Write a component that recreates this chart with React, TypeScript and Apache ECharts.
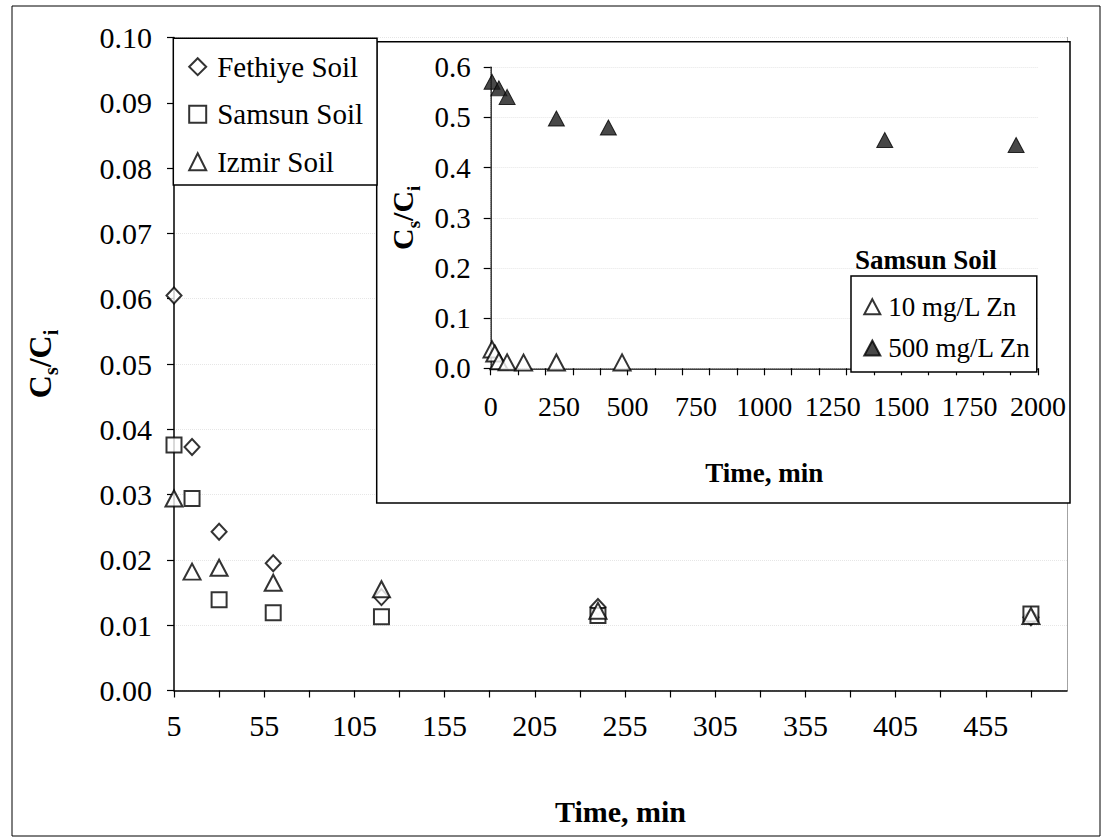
import React, { useEffect, useRef } from 'react';
import * as echarts from 'echarts';

const FONT = 'Liberation Serif';

// ---- main chart data (time in min, Cs/Ci) ----
const times = [5, 15, 30, 60, 120, 240, 480];
const fethiye = [0.0605, 0.0373, 0.0243, 0.0195, 0.0143, 0.0128, 0.0112];
const samsun = [0.0376, 0.0294, 0.0139, 0.0119, 0.0113, 0.0115, 0.0117];
const izmir = [0.0294, 0.0182, 0.0188, 0.0165, 0.0155, 0.0122, 0.0114];

const xTickVals = [5, 30, 55, 80, 105, 130, 155, 180, 205, 230, 255, 280, 305, 330, 355, 380, 405, 430, 455, 480];
const xLabelVals = [5, 55, 105, 155, 205, 255, 305, 355, 405, 455];

// ---- inset data (Samsun soil) ----
const insetTimes10 = [5, 15, 30, 60, 120, 240, 480];
const zn10 = [0.0376, 0.0294, 0.0139, 0.0119, 0.0113, 0.0115, 0.0117];
const insetTimes500 = [5, 30, 60, 240, 430, 1440, 1920];
const zn500 = [0.571, 0.558, 0.541, 0.498, 0.48, 0.455, 0.445];

const insetXTickVals = [0, 100, 200, 300, 400, 500, 600, 700, 800, 900, 1000, 1100, 1200, 1300, 1400, 1500, 1600, 1700, 1800, 1900, 2000];
const insetXLabelVals = [0, 250, 500, 750, 1000, 1250, 1500, 1750, 2000];

const pairs = (xs: number[], ys: number[]) => xs.map((x, i) => [x, ys[i]]);

export default function App() {
  const ref = useRef<HTMLDivElement>(null);
  useEffect(() => {
    const chart = echarts.init(ref.current!, null, { renderer: 'svg' });
    const axisLine = { show: true, lineStyle: { color: '#000', width: 1.5 } };
    const dottedBorder = { show: true, lineStyle: { color: '#999', width: 1, type: 'dotted' as const } };
    const openStyle = { color: '#fff', borderColor: '#000', borderWidth: 2 };
    const grid = { show: true, lineStyle: { color: '#e6e6e6', width: 1, type: 'dotted' as const } };
    const option: any = {
      animation: false,
      backgroundColor: '#fff',
      textStyle: { fontFamily: FONT },
      title: {
        text: 'Samsun Soil',
        left: 855,
        top: 245,
        padding: 0,
        z: 20,
        textStyle: { fontFamily: FONT, fontSize: 27, fontWeight: 'bold', color: '#000', lineHeight: 30 },
      },
      graphic: {
        elements: [
          {
            type: 'rect',
            z: 0,
            silent: true,
            shape: { x: 12, y: 6, width: 1088, height: 830 },
            style: { fill: 'none', stroke: '#000', lineWidth: 1 },
          },
          {
            type: 'rect',
            z: 10,
            silent: true,
            shape: { x: 376.7, y: 41.7, width: 693.3, height: 461.3 },
            style: { fill: '#fff', stroke: '#000', lineWidth: 1.5 },
          },
        ],
      },
      legend: [
        {
          orient: 'vertical',
          left: 173.3,
          top: 38.3,
          data: ['Fethiye Soil', 'Samsun Soil', 'Izmir Soil'],
          itemWidth: 17,
          itemHeight: 17,
          itemGap: 13.5,
          padding: [11.4, 14, 6.3, 14.9],
          backgroundColor: '#fff',
          borderColor: '#000',
          borderWidth: 1.5,
          borderRadius: 0,
          selectedMode: false,
          z: 20,
          textStyle: { fontFamily: FONT, fontSize: 29, color: '#000', lineHeight: 34, padding: [0, 0, 0, 6] },
        },
        {
          orient: 'vertical',
          left: 851,
          top: 276,
          data: ['10 mg/L Zn', '500 mg/L Zn'],
          itemWidth: 16,
          itemHeight: 15,
          itemGap: 11.3,
          padding: [15.7, 6, 9, 12.3],
          backgroundColor: '#fff',
          borderColor: '#000',
          borderWidth: 1.5,
          borderRadius: 0,
          selectedMode: false,
          z: 20,
          textStyle: { fontFamily: FONT, fontSize: 27, color: '#000', lineHeight: 30, padding: [0, 0, 0, 3] },
        },
      ],
      grid: [
        { left: 174, top: 37.5, width: 893, height: 653, containLabel: false },
        { left: 490.7, top: 67.3, width: 547.3, height: 301, containLabel: false, z: 11 },
      ],
      xAxis: [
        {
          type: 'value',
          gridIndex: 0,
          min: 5,
          max: 500,
          axisLine,
          axisTick: { show: true, inside: false, length: 7, lineStyle: { color: '#000', width: 1.2 }, customValues: xTickVals },
          axisLabel: { customValues: xLabelVals, fontFamily: FONT, fontSize: 30, color: '#000', margin: 20, formatter: (v: number) => String(v) },
          splitLine: { show: false },
          name: 'Time, min',
          nameLocation: 'middle',
          nameGap: 106,
          nameTextStyle: { fontFamily: FONT, fontSize: 30, fontWeight: 'bold', color: '#000' },
        },
        {
          type: 'value',
          gridIndex: 1,
          min: 0,
          max: 2000,
          z: 11,
          axisLine,
          axisTick: { show: true, inside: false, length: 7, lineStyle: { color: '#000', width: 1.2 }, customValues: insetXTickVals },
          axisLabel: { customValues: insetXLabelVals, fontFamily: FONT, fontSize: 28, color: '#000', margin: 24, formatter: (v: number) => String(v) },
          splitLine: { show: false },
          name: 'Time, min',
          nameLocation: 'middle',
          nameGap: 91,
          nameTextStyle: { fontFamily: FONT, fontSize: 27, fontWeight: 'bold', color: '#000' },
        },
        {
          type: 'value',
          gridIndex: 1,
          position: 'top',
          min: 0,
          max: 1,
          z: 11,
          axisLine: dottedBorder,
          axisTick: { show: false },
          axisLabel: { show: false },
          splitLine: { show: false },
        },
      ],
      yAxis: [
        {
          type: 'value',
          gridIndex: 0,
          min: 0,
          max: 0.1,
          interval: 0.01,
          axisLine,
          axisTick: { show: true, inside: false, length: 7, lineStyle: { color: '#000', width: 1.2 } },
          axisLabel: { fontFamily: FONT, fontSize: 30, color: '#000', margin: 22, formatter: (v: number) => v.toFixed(2) },
          splitLine: grid,
          name: '{m|C}{s|s}{m|/C}{s|i}',
          nameLocation: 'middle',
          nameRotate: 90,
          nameGap: 113,
          nameTextStyle: {
            rich: {
              m: { fontFamily: FONT, fontSize: 32, fontWeight: 'bold', color: '#000', lineHeight: 32, verticalAlign: 'top' },
              s: { fontFamily: FONT, fontSize: 20, fontWeight: 'bold', color: '#000', lineHeight: 37, verticalAlign: 'bottom' },
            },
          },
        },
        {
          type: 'value',
          gridIndex: 0,
          position: 'right',
          min: 0,
          max: 1,
          axisLine: dottedBorder,
          axisTick: { show: false },
          axisLabel: { show: false },
          splitLine: { show: false },
        },
        {
          type: 'value',
          gridIndex: 1,
          min: 0,
          max: 0.6,
          interval: 0.1,
          z: 11,
          axisLine,
          axisTick: { show: true, inside: false, length: 7, lineStyle: { color: '#000', width: 1.2 } },
          axisLabel: { fontFamily: FONT, fontSize: 29, color: '#000', margin: 20, formatter: (v: number) => v.toFixed(1) },
          splitLine: grid,
          name: '{m|C}{s|s}{m|/C}{s|i}',
          nameLocation: 'middle',
          nameRotate: 90,
          nameGap: 68,
          nameTextStyle: {
            rich: {
              m: { fontFamily: FONT, fontSize: 30, fontWeight: 'bold', color: '#000', lineHeight: 30, verticalAlign: 'top' },
              s: { fontFamily: FONT, fontSize: 19, fontWeight: 'bold', color: '#000', lineHeight: 35, verticalAlign: 'bottom' },
            },
          },
        },
        {
          type: 'value',
          gridIndex: 1,
          position: 'right',
          min: 0,
          max: 1,
          z: 11,
          axisLine: dottedBorder,
          axisTick: { show: false },
          axisLabel: { show: false },
          splitLine: { show: false },
        },
      ],
      series: [
        {
          type: 'scatter',
          name: 'Fethiye Soil',
          xAxisIndex: 0,
          yAxisIndex: 0,
          data: pairs(times, fethiye),
          symbol: 'diamond',
          symbolSize: [15, 16],
          itemStyle: openStyle,
          z: 3,
        },
        {
          type: 'scatter',
          name: 'Samsun Soil',
          xAxisIndex: 0,
          yAxisIndex: 0,
          data: pairs(times, samsun),
          symbol: 'rect',
          symbolSize: [15, 15],
          itemStyle: openStyle,
          z: 3,
        },
        {
          type: 'scatter',
          name: 'Izmir Soil',
          xAxisIndex: 0,
          yAxisIndex: 0,
          data: pairs(times, izmir),
          symbol: 'triangle',
          symbolSize: [17, 16],
          itemStyle: openStyle,
          z: 3,
        },
        {
          type: 'scatter',
          name: '10 mg/L Zn',
          xAxisIndex: 1,
          yAxisIndex: 2,
          data: pairs(insetTimes10, zn10),
          symbol: 'triangle',
          symbolSize: [17, 16],
          itemStyle: openStyle,
          z: 12,
        },
        {
          type: 'scatter',
          name: '500 mg/L Zn',
          xAxisIndex: 1,
          yAxisIndex: 2,
          data: pairs(insetTimes500, zn500),
          symbol: 'triangle',
          symbolSize: [16, 15],
          itemStyle: { color: '#1a1a1a', borderColor: '#000', borderWidth: 1 },
          z: 12,
        },
      ],
    };
    chart.setOption(option);
    return () => chart.dispose();
  }, []);
  return (
    <div
      ref={ref}
      style={{ position: 'fixed', left: 0, top: 0, width: 1102, height: 839, background: '#fff' }}
    />
  );
}
